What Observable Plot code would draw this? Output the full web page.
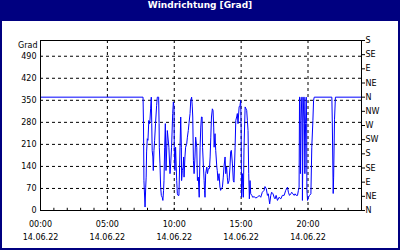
<!DOCTYPE html>
<html>
<head>
<meta charset="utf-8">
<script src="https://cdn.jsdelivr.net/npm/d3@7"></script>
<script src="https://cdn.jsdelivr.net/npm/@observablehq/plot@0.6"></script>
<style>
  html, body { margin: 0; padding: 0; background: #fff; }
  #frame { width: 400px; height: 250px; box-sizing: border-box; background: #000080; padding: 0 2px 2px 2px; overflow: hidden; }
  #title { height: 21px; line-height: 19px; text-align: center; color: #fff; font: bold 9px "DejaVu Sans", sans-serif; }
  #chart { width: 396px; height: 227px; background: #fff; }
  #chart svg { display: block; overflow: visible; }
</style>
</head>
<body>
<div id="frame">
  <div id="title">Windrichtung [Grad]</div>
  <div id="chart"></div>
</div>
<script>
// ---- data ----
const day = [2022, 5, 14];
const dateLabel = "14.06.22";
const times = [
  "00:00","07:40","07:42","07:44","07:49","07:52","07:54","07:56","07:59","08:02",
  "08:06","08:09","08:11","08:14","08:17","08:19","08:21","08:24","08:26","08:29",
  "08:32","08:36","08:41","08:44","08:50","08:52","08:53","08:56","08:59","09:02",
  "09:06","09:09","09:12","09:14","09:17","09:20","09:23","09:29","09:36","09:41",
  "09:44","09:48","09:53","09:56","09:59","10:00","10:03","10:06","10:11","10:14",
  "10:17","10:21","10:26","10:29","10:32","10:33","10:36","10:40","10:42","10:44",
  "10:48","10:51","10:56","10:59","11:03","11:06","11:11","11:14","11:18","11:21",
  "11:23","11:26","11:29","11:33","11:36","11:41","11:44","11:48","11:50","11:52",
  "11:56","11:59","12:02","12:05","12:07","12:11","12:14","12:16","12:18","12:21",
  "12:26","12:29","12:33","12:38","12:41","12:44","12:47","12:51","12:54","12:57",
  "12:59","13:03","13:06","13:11","13:13","13:16","13:21","13:25","13:28","13:31",
  "13:36","13:40","13:43","13:48","13:51","13:55","13:58","14:01","14:06","14:10",
  "14:13","14:16","14:21","14:25","14:28","14:33","14:36","14:40","14:43","14:46",
  "14:51","14:55","14:58","15:00","15:02","15:06","15:10","15:13","15:18","15:22",
  "15:25","15:28","15:31","15:34","15:37","15:40","15:43","15:48","15:52","15:58",
  "16:06","16:13","16:21","16:28","16:35","16:43","16:47","16:53","16:58","17:02",
  "17:08","17:13","17:17","17:23","17:28","17:32","17:37","17:43","17:50","17:58",
  "18:05","18:13","18:20","18:28","18:32","18:37","18:43","18:47","18:52","18:58",
  "19:02","19:07","19:13","19:17","19:20","19:22","19:24","19:26","19:29","19:32",
  "19:34","19:35","19:38","19:41","19:43","19:46","19:49","19:52","19:54","19:55",
  "19:58","20:02","20:07","20:13","20:17","20:22","20:25","20:28","21:47","21:49",
  "21:53","21:55","21:59","22:03","24:00"
];
const directions = [
  360,360,276,95,11,74,106,186,228,223,
  286,276,286,323,360,276,191,170,127,191,
  223,276,334,360,360,276,201,148,74,48,
  42,32,64,95,201,276,127,254,201,117,
  148,201,308,345,329,201,127,201,95,53,
  48,48,201,297,201,95,127,138,170,106,
  170,201,212,233,254,276,308,350,360,329,
  297,159,117,170,233,201,95,106,74,42,
  201,265,297,297,201,138,95,64,42,117,
  138,117,133,133,170,233,297,323,318,265,
  201,244,191,138,127,95,117,74,64,69,
  74,106,138,170,117,138,106,85,95,138,
  186,191,148,95,90,201,286,297,308,276,
  329,334,350,265,42,117,42,201,329,323,
  318,286,254,117,37,95,53,48,42,44,
  40,42,48,42,58,64,76,69,48,53,
  21,48,58,53,42,37,48,32,42,37,
  48,48,64,74,58,48,53,58,53,48,
  53,48,48,64,74,360,360,117,286,360,
  360,32,276,360,360,117,276,360,276,64,
  32,42,48,53,201,286,350,360,360,281,
  54,106,290,360,360
];
const gridValues = [70, 140, 210, 280, 350, 420, 490];
const leftTicks = [0, 70, 140, 210, 280, 350, 420, 490];
const compassValues = [0, 45, 90, 135, 180, 225, 270, 315, 360, 405, 450, 495, 540];
const compassLabels = ["N","NE","E","SE","S","SW","W","NW","N","NE","E","SE","S"];
const labelHours = [0, 5, 10, 15, 20];
const minorHours = d3.range(0, 25);
const yUnit = "Grad";

// ---- build ----
const at = (h, m) => new Date(Date.UTC(day[0], day[1], day[2], h, m));
const parseT = s => { const [h, m] = s.split(":").map(Number); return at(h, m); };
const data = times.map((t, i) => ({t: parseT(t), v: directions[i]}));
const labelDates = labelHours.map(h => at(h, 0));
const minorDates = minorHours.map(h => at(h, 0));

const chart = Plot.plot({
  width: 396,
  height: 227,
  marginLeft: 38,
  marginRight: 37,
  marginTop: 19,
  marginBottom: 38,
  style: {fontFamily: "'DejaVu Sans', sans-serif", fontSize: "8px", background: "#fff", color: "#000", overflow: "visible"},
  x: {type: "utc", domain: [at(0, 0), at(24, 0)]},
  y: {domain: [0, 540]},
  marks: [
    Plot.gridY(gridValues, {stroke: "#000", strokeOpacity: 1, strokeDasharray: "3,3"}),
    Plot.gridX(labelDates, {stroke: "#000", strokeOpacity: 1, strokeDasharray: "3,3"}),
    Plot.ruleX(minorDates, {x: d => d, y1: 0, y2: 7, stroke: "#000"}),
    Plot.line(data, {x: "t", y: "v", stroke: "#0000ff", strokeWidth: 1}),
    Plot.frame({stroke: "#000"}),
    Plot.axisY(leftTicks, {anchor: "left", tickSize: 0, tickPadding: 4, label: null}),
    Plot.axisY(compassValues, {anchor: "right", tickSize: 3, tickPadding: 1, label: null,
      tickFormat: d => compassLabels[compassValues.indexOf(d)]}),
    Plot.axisX(labelDates, {anchor: "bottom", tickSize: 0, tickPadding: 11, label: null, tickFormat: d3.utcFormat("%H:%M")}),
    Plot.axisX(labelDates, {anchor: "bottom", tickSize: 0, tickPadding: 24, label: null, tickFormat: () => dateLabel}),
    Plot.text([yUnit], {frameAnchor: "top-left", textAnchor: "end", lineAnchor: "middle", dx: -3, dy: 5})
  ]
});
document.getElementById("chart").appendChild(chart);
</script>
</body>
</html>
